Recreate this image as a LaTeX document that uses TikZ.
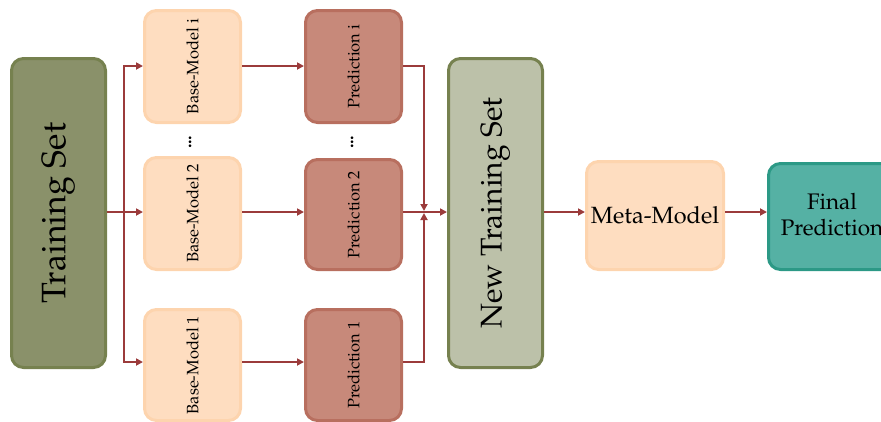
\documentclass[tikz,border=0pt]{standalone}
\usepackage[T1]{fontenc}
\usepackage{mathpazo}
\usetikzlibrary{arrows.meta}
\definecolor{olivebox}{HTML}{8A916A}
\definecolor{oliveline}{HTML}{76814F}
\definecolor{sagebox}{HTML}{BCC1A9}
\definecolor{peachbox}{HTML}{FEDDC0}
\definecolor{peachline}{HTML}{FDD4AE}
\definecolor{rosebox}{HTML}{C7897A}
\definecolor{roseline}{HTML}{B86F5F}
\definecolor{tealbox}{HTML}{55B1A4}
\definecolor{tealline}{HTML}{2C9986}
\definecolor{wire}{HTML}{9B3B3B}
\begin{document}
\begin{tikzpicture}[x=1pt,y=-1pt,
  box/.style={rounded corners=12pt, line width=3pt, inner sep=0pt, anchor=north west},
  trainbox/.style={box, draw=oliveline, fill=olivebox},
  newbox/.style={box, draw=oliveline, fill=sagebox},
  basebox/.style={box, draw=peachline, fill=peachbox},
  predbox/.style={box, draw=roseline, fill=rosebox},
  finalbox/.style={box, draw=tealline, fill=tealbox},
  wirearrow/.style={draw=wire, line width=2pt, -{Triangle[length=7pt,width=7pt]}},
  wireline/.style={draw=wire, line width=2pt},
  vlabel/.style={rotate=90, inner sep=0pt},
  smalllabel/.style={vlabel, font=\fontsize{16.5}{16.5}\selectfont},
  dotsmark/.style={inner sep=0pt, font=\fontsize{24}{24}\selectfont},
]
\useasboundingbox (0,0) rectangle (881,421);

% first column: the original training set
\node[trainbox, minimum width=94pt, minimum height=309pt] (ts) at (10,57) {};
\node[vlabel, font=\fontsize{34}{34}\selectfont] at (ts.center) {Training Set};

% base models
\node[basebox, minimum width=96pt, minimum height=112pt] (bmi) at (143,9) {};
\node[basebox, minimum width=96pt, minimum height=112pt] (bm2) at (143,156) {};
\node[basebox, minimum width=96pt, minimum height=111pt] (bm1) at (143,308) {};
\node[smalllabel] at (bmi.center) {Base-Model i};
\node[smalllabel] at (bm2.center) {Base-Model 2};
\node[smalllabel] at (bm1.center) {Base-Model 1};
\node[dotsmark] (dotsb) at (190,139) {$\vdots$};

% predictions
\node[predbox, minimum width=96pt, minimum height=112pt] (pri) at (304,9) {};
\node[predbox, minimum width=96pt, minimum height=110pt] (pr2) at (304,158) {};
\node[predbox, minimum width=96pt, minimum height=111pt] (pr1) at (304,308) {};
\node[smalllabel] at (pri.center) {Prediction i};
\node[smalllabel] at (pr2.center) {Prediction 2};
\node[smalllabel] at (pr1.center) {Prediction 1};
\node[dotsmark] (dotsp) at (352,139) {$\vdots$};

% stacked training set
\node[newbox, minimum width=94pt, minimum height=309pt] (nts) at (447,57) {};
\node[vlabel, font=\fontsize{30}{30}\selectfont] at (nts.center) {New Training Set};

% meta model and final output
\node[basebox, minimum width=137pt, minimum height=108pt] (meta) at (585,160) {};
\node[font=\fontsize{23.5}{23.5}\selectfont] at (meta.center) {Meta-Model};
\node[finalbox, minimum width=130pt, minimum height=106pt] (fin) at (767,162) {};
\node[font=\fontsize{22.5}{26}\selectfont, align=center] at (832,215) {Final\\Prediction};

% fan-out from the training set
\coordinate (split) at (124,212);
\draw[wireline] (ts.east |- split) -- (split);
\draw[wirearrow] (split) |- (bmi.west |- 0,66);
\draw[wirearrow] (split) -- (bm2.west |- split);
\draw[wirearrow] (split) |- (bm1.west |- 0,362);

% base model to prediction
\draw[wirearrow] (bmi.east |- 0,66) -- (pri.west |- 0,66);
\draw[wirearrow] (bm2.east |- 0,212) -- (pr2.west |- 0,212);
\draw[wirearrow] (bm1.east |- 0,362) -- (pr1.west |- 0,362);

% predictions gathered into the new training set
\coordinate (jtop) at (424,211);
\coordinate (jbot) at (424,213);
\draw[wirearrow] (pri.east |- 0,66) -| (jtop);
\draw[wirearrow] (pr1.east |- 0,362) -| (jbot);
\draw[wirearrow] (pr2.east |- 0,212) -- (nts.west |- 0,212);

% stacking output
\draw[wirearrow] (nts.east |- 0,212) -- (meta.west |- 0,212);
\draw[wirearrow] (meta.east |- 0,212) -- (fin.west |- 0,212);
\end{tikzpicture}
\end{document}
